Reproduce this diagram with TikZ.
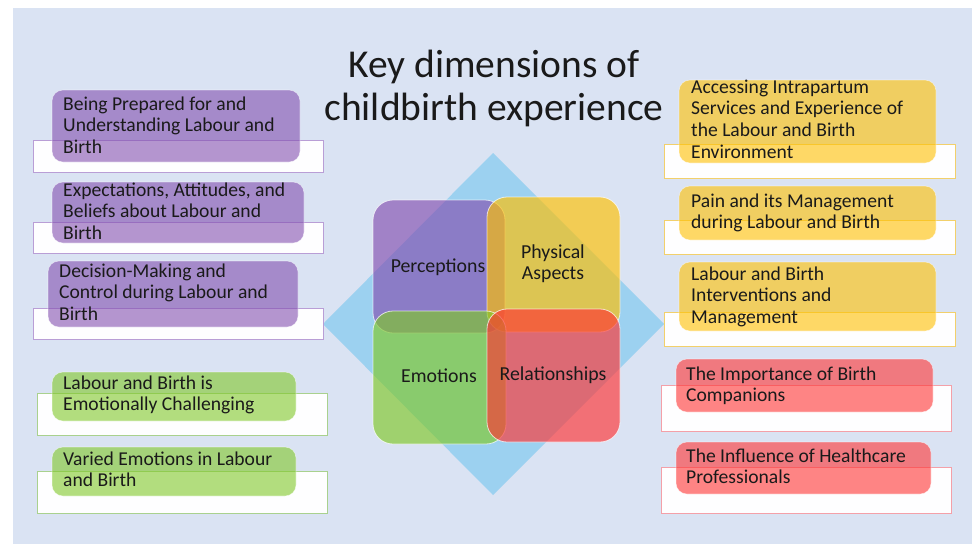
\documentclass[tikz,border=0pt]{standalone}
\usepackage{fontspec}
\setmainfont{Carlito}
\definecolor{bgc}{HTML}{DAE3F3}
\definecolor{diam}{HTML}{9CD1F0}
\definecolor{cpur}{HTML}{834FB0}
\definecolor{cyel}{HTML}{FFC000}
\definecolor{cgrn}{HTML}{80C828}
\definecolor{cred}{HTML}{FF3333}
\definecolor{bpur}{HTML}{B99ED6}
\definecolor{byel}{HTML}{F2D06B}
\definecolor{bgrn}{HTML}{A9D18E}
\definecolor{bred}{HTML}{F4A0A8}
\definecolor{txt}{HTML}{1A1A1A}
\tikzset{
  wrect/.style={fill=white!96!bgc, draw=#1, line width=0.8pt},
  ibox/.style={fill=#1, fill opacity=0.6, draw=white, draw opacity=0.5, line width=0.6pt, rounded corners=11pt},
  sqbox/.style={fill=#1, fill opacity=0.65, draw=white, draw opacity=0.7, line width=0.8pt, rounded corners=20pt},
  lbl/.style={anchor=base west, inner sep=0pt, text=txt, font=\fontsize{19.6}{21.8}\selectfont},
  clbl/.style={anchor=base, inner sep=0pt, text=txt, font=\fontsize{19.8}{21}\selectfont},
  ttl/.style={anchor=base, inner sep=0pt, text=txt, font=\fontsize{39.5}{43}\selectfont}
}
\begin{document}
\begin{tikzpicture}[x=1pt,y=-1pt]
\useasboundingbox (0,0) rectangle (972,544);
\fill[white] (0,0) rectangle (972,544);
\fill[bgc] (13,8) rectangle (972,544);

% title
\node[ttl] (title) at (494,77) {\parbox[t]{440pt}{\centering Key dimensions of\\childbirth experience}};

% central diamond and squares
\fill[diam] (493,153) -- (664,324) -- (493,495) -- (323,324) -- cycle;
\draw[sqbox=cpur] (373,200) rectangle (505,333);
\draw[sqbox=cyel] (487,197) rectangle (620,332);
\draw[sqbox=cgrn] (373,311) rectangle (506,444);
\draw[sqbox=cred] (487,309) rectangle (620,442);
\node[clbl] (perc) at (438,272) {Perceptions};
\node[clbl] (phys) at (553,258) {\parbox[t]{120pt}{\centering Physical\\Aspects}};
\node[clbl] (emo) at (439,382) {Emotions};
\node[clbl] (rel) at (553,380) {Relationships};

% left purple items
\draw[wrect=bpur] (33,140) rectangle (323,172);
\draw[ibox=cpur] (52,90) rectangle (300,162);
\node[lbl] (l1) at (63,110) {\parbox[t]{260pt}{Being Prepared for and\\Understanding Labour and\\Birth}};

\draw[wrect=bpur] (33,222) rectangle (323,253);
\draw[ibox=cpur] (52,182) rectangle (304,243);
\node[lbl] (l2) at (63,196) {\parbox[t]{260pt}{Expectations, Attitudes, and\\Beliefs about Labour and\\Birth}};

\draw[wrect=bpur] (33,308) rectangle (323,339);
\draw[ibox=cpur] (48,261) rectangle (298,327);
\node[lbl] (l3) at (59,277) {\parbox[t]{260pt}{Decision-Making and\\Control during Labour and\\Birth}};

% left green items
\draw[wrect=bgrn] (37,393) rectangle (327,435);
\draw[ibox=cgrn] (52,372) rectangle (296,421);
\node[lbl] (l4) at (63,389) {\parbox[t]{260pt}{Labour and Birth is\\Emotionally Challenging}};

\draw[wrect=bgrn] (37,471) rectangle (327,513);
\draw[ibox=cgrn] (52,447) rectangle (296,496);
\node[lbl] (l5) at (63,465) {\parbox[t]{260pt}{Varied Emotions in Labour\\and Birth}};

% right yellow items
\draw[wrect=byel] (664,144) rectangle (955,178);
\draw[ibox=cyel] (679,80) rectangle (936,163);
\node[lbl] (r1) at (691,93) {\parbox[t]{260pt}{Accessing Intrapartum\\Services and Experience of\\the Labour and Birth\\Environment}};

\draw[wrect=byel] (664,220) rectangle (955,254);
\draw[ibox=cyel] (679,186) rectangle (936,240);
\node[lbl] (r2) at (691,207) {\parbox[t]{260pt}{Pain and its Management\\during Labour and Birth}};

\draw[wrect=byel] (664,312) rectangle (955,346);
\draw[ibox=cyel] (679,262) rectangle (936,331);
\node[lbl] (r3) at (691,280) {\parbox[t]{260pt}{Labour and Birth\\Interventions and\\Management}};

% right red items
\draw[wrect=bred] (661,385) rectangle (951,431);
\draw[ibox=cred] (676,359) rectangle (933,412);
\node[lbl] (r4) at (686,380) {\parbox[t]{260pt}{The Importance of Birth\\Companions}};

\draw[wrect=bred] (661,467) rectangle (951,513);
\draw[ibox=cred] (676,442) rectangle (931,494);
\node[lbl] (r5) at (686,462) {\parbox[t]{260pt}{The Influence of Healthcare\\Professionals}};
\end{tikzpicture}
\end{document}
